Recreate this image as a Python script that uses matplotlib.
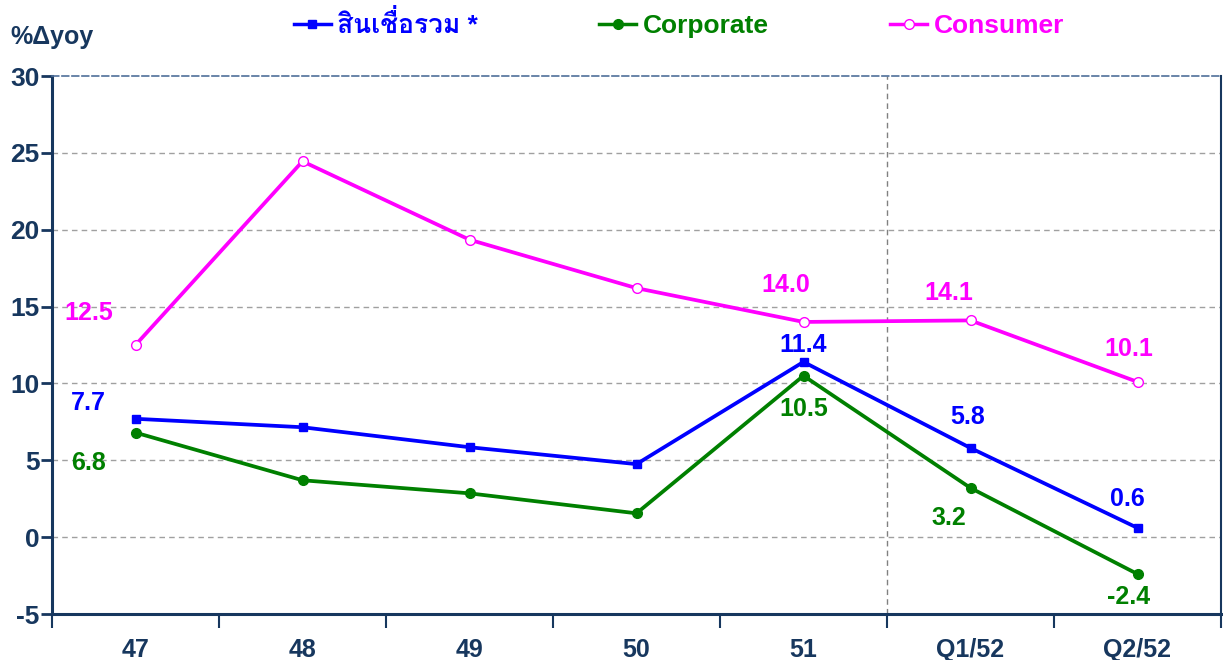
import numpy as np
import matplotlib
matplotlib.use("Agg")
import matplotlib.pyplot as plt
from matplotlib import font_manager
from matplotlib.lines import Line2D

categories = ["47", "48", "49", "50", "51", "Q1/52", "Q2/52"]
total_loans = [7.7, 7.15, 5.85, 4.75, 11.4, 5.8, 0.6]
corporate = [6.8, 3.7, 2.85, 1.55, 10.5, 3.2, -2.4]
consumer = [12.5, 24.45, 19.35, 16.2, 14.0, 14.1, 10.1]
series_names = ["สินเชื่อรวม *", "Corporate", "Consumer"]
labelled_points = [0, 4, 5, 6]

navy = "#17375E"
colors = ["#0000FF", "#008000", "#FF00FF"]

# thai font with a bold face if one exists
bold_names = {f.name for f in font_manager.fontManager.ttflist
              if f.weight in ("bold", 700, 800, "heavy") or str(f.weight) in ("700", "800")}
all_names = {f.name for f in font_manager.fontManager.ttflist}
thai = []
for n in ["Loma", "Noto Sans Thai Looped", "Noto Sans Thai", "Garuda", "Tlwg Typo"]:
    if n in bold_names:
        thai = [n]
        break
if not thai:
    thai = [n for n in ["Noto Sans Thai Looped", "Loma", "Noto Sans Thai"] if n in all_names][:1]
plt.rcParams["font.family"] = ["Liberation Sans"] + thai + ["DejaVu Sans"]
plt.rcParams["axes.unicode_minus"] = False

fig = plt.figure(figsize=(12.23, 6.6), dpi=100)
ax = fig.add_axes([52 / 1223, 46 / 660, 1169 / 1223, 538 / 660])

x = np.arange(len(categories))
ax.plot(x, total_loans, color=colors[0], lw=2.7, marker="s", ms=6, zorder=3)
ax.plot(x, corporate, color=colors[1], lw=2.7, marker="o", ms=7, zorder=3)
ax.plot(x, consumer, color=colors[2], lw=2.7, marker="o", ms=7, mfc="white", mew=1, zorder=3)

# label offsets in pixels
offsets = {
    0: [(-47, 16), (-47, -30), (-47, 32)],
    4: [(0, 17), (0, -33), (-18, 37)],
    5: [(-3, 31), (-22, -30), (-22, 27)],
    6: [(-10, 29), (-9, -23), (-9, 33)],
}
for i in labelled_points:
    for k, ys in enumerate([total_loans, corporate, consumer]):
        dx, dy = offsets[i][k]
        ax.annotate(f"{ys[i]:.1f}", (x[i], ys[i]), xytext=(dx, dy), textcoords="offset pixels",
                    ha="center", va="center", color=colors[k], fontsize=18, fontweight="bold")

ax.set_xlim(-0.5, len(categories) - 0.5)
ax.set_ylim(-5, 30)
ax.set_yticks(np.arange(-5, 31, 5))
ax.set_xticks(x)
ax.set_xticklabels(categories)
ax.set_xticks(np.arange(-0.5, len(categories), 1), minor=True)
ax.tick_params(axis="x", which="major", length=0, pad=17, labelsize=18, labelcolor=navy)
ax.tick_params(axis="x", which="minor", length=10, width=1.5, color=navy, direction="out")
ax.tick_params(axis="y", length=8, width=2, color=navy, pad=1, labelsize=19, labelcolor=navy)
for lab in ax.get_xticklabels() + ax.get_yticklabels():
    lab.set_fontweight("bold")

for yv in range(0, 30, 5):
    ax.axhline(yv, color="#A0A0A0", lw=1, ls=(0, (4, 3)), zorder=1)
ax.axvline(4.5, color="#808080", lw=1, ls=(0, (4, 3)), zorder=1)

ax.spines["left"].set_color(navy)
ax.spines["left"].set_linewidth(2.2)
ax.spines["bottom"].set_color(navy)
ax.spines["bottom"].set_linewidth(2.2)
ax.spines["right"].set_color(navy)
ax.spines["right"].set_linewidth(1.5)
ax.spines["top"].set_color("#4F6F99")
ax.spines["top"].set_linewidth(1.2)
ax.spines["top"].set_linestyle((0, (4, 2)))

fig.text(10 / 1223, 1 - 37 / 660, "%Δyoy", color=navy, fontsize=18, fontweight="bold",
         ha="left", va="center")

handles = [
    Line2D([], [], color=colors[0], lw=2.5, marker="s", ms=6),
    Line2D([], [], color=colors[1], lw=2.5, marker="o", ms=7),
    Line2D([], [], color=colors[2], lw=2.5, marker="o", ms=7, mfc="white", mew=1),
]
leg = fig.legend(handles, series_names, loc="center", bbox_to_anchor=(679 / 1223, 1 - 24 / 660),
                 ncol=3, frameon=False, handlelength=1.4, handletextpad=0.25, columnspacing=4.6,
                 prop={"size": 19, "weight": "bold"})
for t, c in zip(leg.get_texts(), colors):
    t.set_color(c)

fig.savefig("out.png", dpi=100)
